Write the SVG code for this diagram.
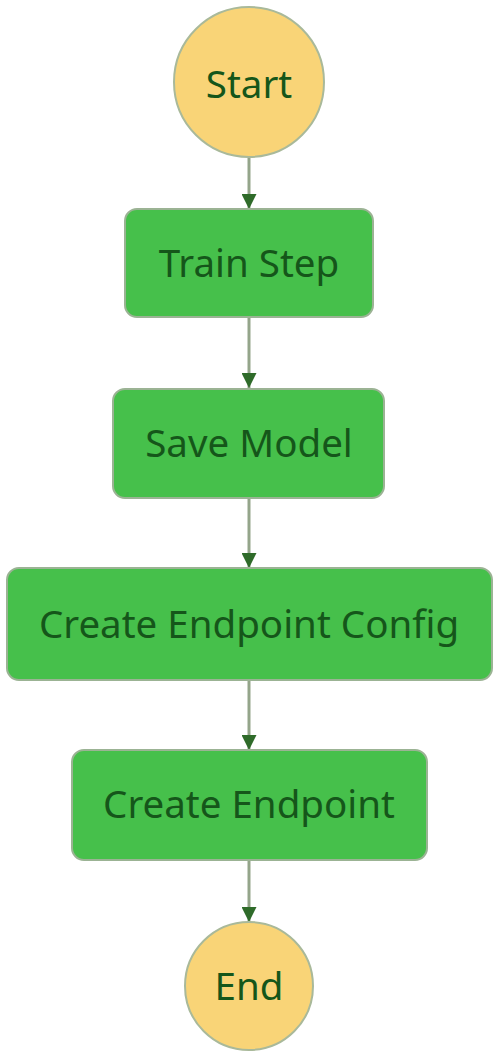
<svg xmlns="http://www.w3.org/2000/svg" width="500" height="1059" viewBox="0 0 500 1059">
<style>
.state{fill:#46c04b;stroke:#9bb394;stroke-width:2}
.term{fill:#f9d477;stroke:#a9b99a;stroke-width:2}
.lbl{font-family:"Noto Sans","Open Sans",sans-serif;font-size:38.5px;fill:#15561a;text-anchor:middle}
.edge{stroke:#94a58a;stroke-width:3;fill:none}
</style>
<defs>
<marker id="ah" viewBox="0 0 10 10" refX="10" refY="5" markerWidth="5" markerHeight="5" orient="auto" markerUnits="strokeWidth">
<path d="M0,0 L10,5 L0,10 z" fill="#2f6b2a"/>
</marker>
</defs>
<rect width="500" height="1059" fill="#ffffff"/>
<g id="connectors">
<line class="edge" x1="249" y1="158" x2="249" y2="209" marker-end="url(#ah)"/>
<line class="edge" x1="249" y1="318" x2="249" y2="388" marker-end="url(#ah)"/>
<line class="edge" x1="249" y1="499" x2="249" y2="568" marker-end="url(#ah)"/>
<line class="edge" x1="249" y1="681" x2="249" y2="750" marker-end="url(#ah)"/>
<line class="edge" x1="249" y1="861" x2="249" y2="922" marker-end="url(#ah)"/>
</g>
<g id="start">
<circle class="term" cx="249" cy="82" r="75"/>
<text class="lbl" x="249" y="98">Start</text>
</g>
<g id="train-step">
<rect class="state" x="125" y="209" width="248" height="108" rx="12"/>
<text class="lbl" x="249" y="277">Train Step</text>
</g>
<g id="save-model">
<rect class="state" x="113" y="389" width="271" height="109" rx="12"/>
<text class="lbl" x="249" y="457">Save Model</text>
</g>
<g id="create-endpoint-config">
<rect class="state" x="7" y="568" width="485" height="112" rx="12"/>
<text class="lbl" x="249" y="638">Create Endpoint Config</text>
</g>
<g id="create-endpoint">
<rect class="state" x="72" y="750" width="355" height="110" rx="12"/>
<text class="lbl" x="249" y="818">Create Endpoint</text>
</g>
<g id="end">
<circle class="term" cx="249" cy="986" r="64"/>
<text class="lbl" x="249" y="1000">End</text>
</g>
</svg>
